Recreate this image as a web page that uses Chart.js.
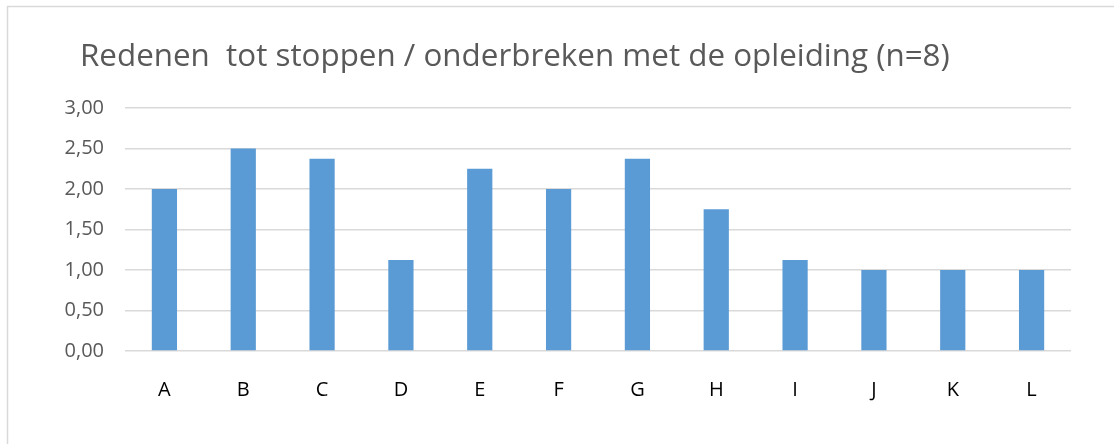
<!DOCTYPE html>
<html><head><meta charset="utf-8">
<script src="https://cdn.jsdelivr.net/npm/chart.js@4"></script>
<style>html,body{margin:0;padding:0;background:#fff}#wrap{width:1114px;height:444px;position:relative}</style>
</head><body><div id="wrap"><canvas id="c" width="1114" height="444"></canvas></div>
<script>
const titleText = 'Redenen  tot stoppen / onderbreken met de opleiding (n=8)';
const categories = ['A','B','C','D','E','F','G','H','I','J','K','L'];
const values = [2.00, 2.50, 2.375, 1.125, 2.25, 2.00, 2.375, 1.75, 1.125, 1.00, 1.00, 1.00];
const yTicks = [0, 0.5, 1, 1.5, 2, 2.5, 3];

const FONT = '"Open Sans", "Liberation Sans", sans-serif';

const deco = {
  id: 'deco',
  beforeDraw(chart) {
    const ctx = chart.ctx;
    ctx.save();
    ctx.fillStyle = '#fff';
    ctx.fillRect(0, 0, chart.width, chart.height);
    ctx.strokeStyle = '#d9d9d9';
    ctx.lineWidth = 1.5;
    ctx.beginPath();
    ctx.moveTo(7.5, chart.height + 5);
    ctx.lineTo(7.5, 6.5);
    ctx.lineTo(chart.width + 5, 6.5);
    ctx.stroke();
    ctx.font = '100px ' + FONT;
    const w = ctx.measureText(titleText).width;
    const size = 100 * 870 / w;
    ctx.font = size.toFixed(2) + 'px ' + FONT;
    ctx.fillStyle = '#595959';
    ctx.textBaseline = 'alphabetic';
    ctx.textAlign = 'left';
    ctx.fillText(titleText, 80, 66);
    ctx.restore();
  }
};

new Chart(document.getElementById('c'), {
  type: 'bar',
  data: {
    labels: categories,
    datasets: [{
      data: values,
      backgroundColor: '#5b9bd5',
      borderWidth: 0,
      barPercentage: 0.32,
      categoryPercentage: 1
    }]
  },
  options: {
    responsive: false,
    animation: false,
    events: [],
    layout: { padding: { left: 0, top: 108, right: 43, bottom: 0 } },
    plugins: { legend: { display: false }, tooltip: { enabled: false }, title: { display: false } },
    scales: {
      x: {
        grid: { display: false },
        border: { display: false },
        ticks: { color: '#000', font: { family: FONT, size: 20 }, padding: 19, maxRotation: 0 },
        afterFit(s) { s.height = 93; }
      },
      y: {
        min: 0, max: 3,
        afterBuildTicks(s) { s.ticks = yTicks.map(v => ({ value: v })); },
        grid: { color: '#d9d9d9', lineWidth: 1.5, drawTicks: false },
        border: { display: false },
        ticks: {
          color: '#595959', font: { family: FONT, size: 20 }, padding: 21,
          callback: v => Number(v).toFixed(2).replace('.', ',')
        },
        afterFit(s) { s.width = 125; }
      }
    }
  },
  plugins: [deco]
});
</script></body></html>
